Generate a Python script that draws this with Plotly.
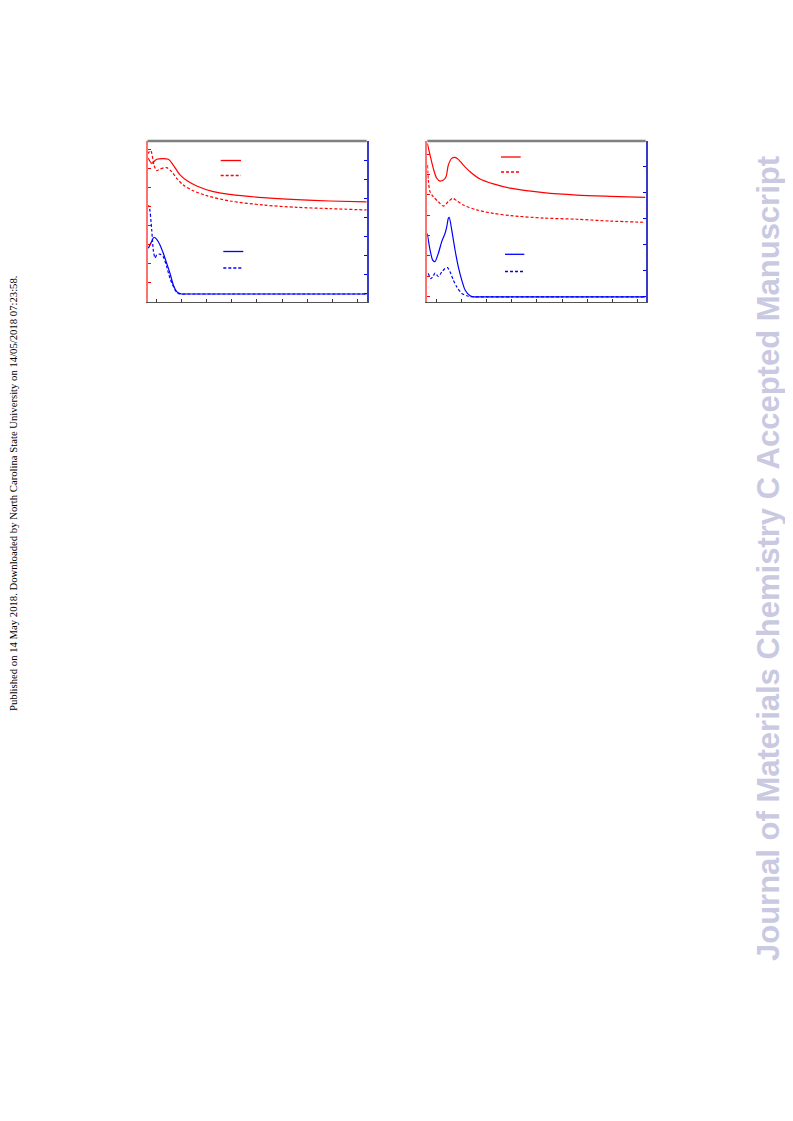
import plotly.graph_objects as go

# page offset caused by the default 8px body margin
OX, OY = 8, 8
W, H = 793 - OX, 1121 - OY

# ---------------- data ----------------
# Left panel
a_red_solid_x = [0.345, 0.413, 0.512, 0.742, 0.841, 0.974, 1.139, 1.306, 1.635, 1.966, 2.627, 3.29, 3.95, 4.68]
a_red_solid_y = [7.54, 7.28, 7.49, 7.49, 7.19, 6.67, 6.32, 6.09, 5.79, 5.65, 5.48, 5.37, 5.30, 5.25]

a_red_dash_x = [0.329, 0.393, 0.458, 0.512, 0.577, 0.710, 0.810, 0.909, 1.040, 1.238, 1.504, 1.966, 2.627, 3.29, 3.95, 4.68]
a_red_dash_y = [7.78, 7.94, 7.19, 6.89, 6.98, 7.05, 6.84, 6.49, 6.14, 5.84, 5.58, 5.30, 5.09, 4.97, 4.90, 4.83]

a_blue_solid_x = [0.345, 0.393, 0.458, 0.512, 0.577, 0.643, 0.710, 0.776, 0.841, 0.909, 0.96, 1.008, 1.1, 1.3, 1.6, 1.97, 3.0, 4.68]
a_blue_solid_y = [2.39, 2.65, 2.97, 2.86, 2.57, 2.13, 1.61, 1.08, 0.47, 0.12, 0.03, 0.0, 0.0, 0.0, 0.0, 0.0, 0.0, 0.0]

a_blue_dash_x = [0.329, 0.359, 0.413, 0.444, 0.478, 0.512, 0.577, 0.643, 0.710, 0.776, 0.875, 0.93, 0.974, 1.1, 1.3, 1.6, 1.97, 3.0, 4.68]
a_blue_dash_y = [4.55, 4.61, 3.35, 2.30, 1.88, 2.04, 2.09, 1.94, 1.43, 0.82, 0.21, 0.04, 0.0, 0.0, 0.0, 0.0, 0.0, 0.0, 0.0]

# Right panel
b_red_solid_x = [0.324, 0.378, 0.443, 0.511, 0.577, 0.642, 0.696, 0.742, 0.809, 0.875, 0.940, 1.040, 1.173, 1.372, 1.636, 1.968, 2.630, 3.294, 3.956, 4.652]
b_red_solid_y = [7.54, 6.97, 6.31, 5.82, 5.68, 5.73, 5.90, 6.47, 6.80, 6.85, 6.75, 6.47, 6.14, 5.78, 5.54, 5.33, 5.11, 4.99, 4.93, 4.88]

b_red_dash_x = [0.328, 0.344, 0.378, 0.443, 0.543, 0.642, 0.742, 0.829, 0.909, 1.040, 1.306, 1.636, 1.968, 2.630, 3.294, 3.956, 4.652]
b_red_dash_y = [6.47, 5.73, 5.16, 4.91, 4.67, 4.45, 4.67, 4.83, 4.71, 4.50, 4.26, 4.09, 3.98, 3.86, 3.80, 3.71, 3.65]

b_blue_solid_x = [0.324, 0.378, 0.431, 0.477, 0.543, 0.610, 0.676, 0.710, 0.742, 0.761, 0.809, 0.875, 0.940, 1.008, 1.074, 1.173, 1.239, 1.4, 1.7, 2.0, 3.0, 4.652]
b_blue_solid_y = [2.44, 1.80, 1.41, 1.35, 1.67, 2.12, 2.44, 2.69, 3.02, 3.05, 2.57, 1.80, 1.15, 0.64, 0.26, 0.04, 0.0, 0.0, 0.0, 0.0, 0.0, 0.0]

b_blue_dash_x = [0.344, 0.392, 0.443, 0.477, 0.543, 0.610, 0.676, 0.726, 0.775, 0.841, 0.909, 1.008, 1.139, 1.27, 1.5, 2.0, 3.0, 4.652]
b_blue_dash_y = [0.90, 0.70, 0.80, 0.91, 0.78, 0.95, 1.09, 1.12, 0.96, 0.64, 0.38, 0.13, 0.02, 0.0, 0.0, 0.0, 0.0, 0.0]

x_ticks = [0.5, 1.0, 1.5, 2.0, 2.5, 3.0, 3.5, 4.0, 4.5]
a_left_ticks = [1, 2, 3, 4, 5, 6, 7, 8]
a_right_ticks = [0, 1, 2, 3, 4, 5, 6, 7]
b_left_ticks = [0, 1, 2, 3, 4, 5, 6, 7]
b_right_ticks = [0, 1, 2, 3, 4, 5]

side_text = "Published on 14 May 2018. Downloaded by North Carolina State University on 14/05/2018 07:23:58."
watermark = "Journal of Materials Chemistry C Accepted Manuscript"

# ---------------- styling ----------------
RED = "#ff0000"
BLUE = "#0000ff"
DASH = "3px,2px"
LW = 1.2


def px(x):
    return (x - OX) / W


def py(y):
    return 1 - (y - OY) / H


fig = go.Figure()


def add(x, y, xa, ya, color, dash, sm=0.8):
    fig.add_trace(go.Scatter(x=x, y=y, xaxis=xa, yaxis=ya, mode="lines",
                             line=dict(color=color, width=LW, dash=dash, shape="spline", smoothing=sm),
                             showlegend=False, hoverinfo="skip"))


add(a_red_solid_x, a_red_solid_y, "x", "y", RED, "solid")
add(a_red_dash_x, a_red_dash_y, "x", "y", RED, DASH)
add(a_blue_solid_x, a_blue_solid_y, "x", "y2", BLUE, "solid", 0.6)
add(a_blue_dash_x, a_blue_dash_y, "x", "y2", BLUE, DASH, 0.6)

add(b_red_solid_x, b_red_solid_y, "x2", "y3", RED, "solid")
add(b_red_dash_x, b_red_dash_y, "x2", "y3", RED, DASH)
add(b_blue_solid_x, b_blue_solid_y, "x2", "y4", BLUE, "solid", 0.6)
add(b_blue_dash_x, b_blue_dash_y, "x2", "y4", BLUE, DASH, 0.6)

ydom = [py(302), py(141)]


def xax(domain, anchor, rng):
    return dict(domain=domain, anchor=anchor, range=rng, showline=True, linecolor="#555555",
                linewidth=1, ticks="inside", ticklen=3, tickcolor="#333333", tickwidth=1,
                tickvals=x_ticks, showticklabels=False, showgrid=False, zeroline=False)


def yax(rng, ticks, color, lcolor, side, anchor, overlay=None, domain=None):
    d = dict(range=rng, showline=True, linecolor=lcolor, linewidth=2, ticks="inside",
             ticklen=3, tickcolor=color, tickwidth=1, tickvals=ticks, showticklabels=False,
             showgrid=False, zeroline=False, side=side, anchor=anchor)
    if overlay:
        d["overlaying"] = overlay
    if domain:
        d["domain"] = domain
    return d


fig.update_layout(
    width=W, height=H,
    margin=dict(l=0, r=0, t=0, b=0),
    paper_bgcolor="white", plot_bgcolor="white",
    xaxis=xax([px(147.5), px(366.7)], "y", [0.329, 4.68]),
    xaxis2=xax([px(427.3), px(645.7)], "y3", [0.324, 4.66]),
    yaxis=yax([0, 8.45], a_left_ticks, RED, "#ff7070", "left", "x", domain=ydom),
    yaxis2=yax([-0.42, 8.01], a_right_ticks, BLUE, "#3a3ac8", "right", "x", overlay="y"),
    yaxis3=yax([-0.276, 7.655], b_left_ticks, RED, "#ff7070", "left", "x2", domain=ydom),
    yaxis4=yax([-0.2, 5.99], b_right_ticks, BLUE, "#3a3ac8", "right", "x2", overlay="y3"),
)

# top borders
for xr, yr in (("x domain", "y domain"), ("x2 domain", "y3 domain")):
    fig.add_shape(type="line", xref=xr, yref=yr, x0=0, x1=1, y0=1, y1=1,
                  line=dict(color="#808080", width=2.5))

# legend sample lines (no text in the reference)
legend_samples = [
    (220.7, 241.0, 160.5, RED, "solid"),
    (220.7, 241.0, 175.5, RED, DASH),
    (223.3, 243.3, 251.5, BLUE, "solid"),
    (223.3, 243.3, 268.0, BLUE, DASH),
    (501.0, 520.7, 157.0, RED, "solid"),
    (501.0, 520.7, 172.0, RED, DASH),
    (505.0, 524.3, 254.3, BLUE, "solid"),
    (505.0, 524.3, 271.5, BLUE, DASH),
]
for x0, x1, yy, c, d in legend_samples:
    fig.add_shape(type="line", xref="paper", yref="paper", x0=px(x0), x1=px(x1),
                  y0=py(yy), y1=py(yy), line=dict(color=c, width=1.3, dash=d))

fig.add_annotation(text=side_text, xref="paper", yref="paper", x=px(12.5), y=py(493.5),
                   xanchor="center", yanchor="middle", textangle=-90, showarrow=False,
                   font=dict(family="Liberation Serif", size=10.7, color="black"))
fig.add_annotation(text="<b>" + watermark + "</b>", xref="paper", yref="paper", x=px(768), y=py(559),
                   xanchor="center", yanchor="middle", textangle=-90, showarrow=False,
                   font=dict(family="Liberation Sans", size=31, color="#c9c9e2"))

fig.write_html("out.html")
